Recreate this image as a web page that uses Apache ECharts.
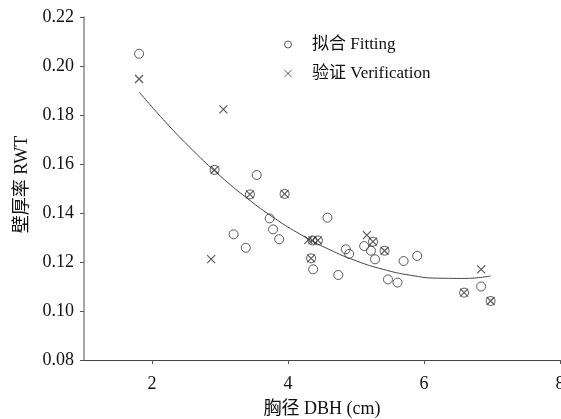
<!DOCTYPE html>
<html><head><meta charset="utf-8">
<script src="https://cdn.jsdelivr.net/npm/echarts@6/dist/echarts.min.js"></script>
<style>html,body{margin:0;padding:0;background:#fff}#c{width:561px;height:419px}</style>
</head><body><div id="c"></div>
<script>
// Fitting (circle) points: [DBH, RWT]
const fittingX = [1.81,2.92,3.54,3.44,3.95,3.73,3.78,3.87,3.20,3.38,4.58,4.36,4.44,4.34,4.37,4.74,4.85,4.90,5.12,5.22,5.25,5.28,5.42,5.70,5.90,5.47,5.61,6.59,6.84,6.98];
const fittingY = [0.205,0.1576,0.1555,0.1476,0.1478,0.1378,0.1333,0.1293,0.1313,0.1258,0.1381,0.1288,0.1288,0.1215,0.1170,0.1147,0.1252,0.1233,0.1265,0.1246,0.1283,0.1211,0.1246,0.1204,0.1225,0.1129,0.1116,0.1075,0.1100,0.1041];
// Verification (x) points
const verifX = [1.81,3.05,2.87,2.92,3.44,3.95,4.30,4.36,4.44,4.34,5.16,5.25,5.42,6.59,6.84,6.98];
const verifY = [0.1947,0.1823,0.1212,0.1576,0.1476,0.1478,0.1290,0.1288,0.1288,0.1215,0.1310,0.1283,0.1246,0.1075,0.1170,0.1041];
// Fitted curve
const curveX = [1.81,2.2,2.6,3.0,3.4,3.8,4.2,4.6,5.0,5.4,5.8,6.2,6.6,6.98];
const curveY = [0.1894,0.1771,0.1656,0.1552,0.1460,0.1379,0.1310,0.1252,0.1205,0.1170,0.1146,0.1134,0.1133,0.1143];
const xTicks = [2,4,6,8];
const yTicks = [0.08,0.10,0.12,0.14,0.16,0.18,0.20,0.22];
const seriesNames = ['拟合 Fitting','验证 Verification'];
const xName = '胸径 DBH (cm)';
const yName = '壁厚率 RWT';

const zip = (a,b) => a.map((v,i)=>[v,b[i]]);
const FONT = '"Liberation Serif","Noto Sans CJK SC",serif';
const crossPath = 'path://M0,0L10,10M10,0L0,10';

const chart = echarts.init(document.getElementById('c'), null, {renderer:'canvas'});
chart.setOption({
  animation:false,
  backgroundColor:'#fff',
  grid:{left:84,right:1,top:17,bottom:59,containLabel:false,outerBoundsMode:'none'},
  legend:{
    data:[{name:seriesNames[0],icon:'circle'},{name:seriesNames[1],icon:crossPath}],
    orient:'vertical', left:279, top:31, itemGap:12, itemWidth:24, itemHeight:7,
    textStyle:{fontFamily:FONT,fontSize:17,color:'#111',padding:[0,0,0,7]},
    itemStyle:{borderWidth:1},
    selectedMode:false
  },
  xAxis:{
    type:'value', min:1, max:8,
    name:xName, nameLocation:'middle', nameGap:40,
    nameTextStyle:{fontFamily:FONT,fontSize:18,color:'#111'},
    axisLine:{onZero:false,lineStyle:{color:'#444',width:1}},
    axisTick:{show:true,length:4,customValues:xTicks,lineStyle:{color:'#555'}},
    axisLabel:{customValues:xTicks,fontFamily:FONT,fontSize:18,color:'#111',margin:15},
    splitLine:{show:false}
  },
  yAxis:{
    type:'value', min:0.08, max:0.22, interval:0.02,
    name:yName, nameLocation:'middle', nameGap:53, nameRotate:90,
    nameTextStyle:{fontFamily:FONT,fontSize:18,color:'#111',padding:[0,0,0,8]},
    axisLine:{show:true,lineStyle:{color:'#888',width:1.5}},
    axisTick:{show:true,length:4,lineStyle:{color:'#555'}},
    axisLabel:{fontFamily:FONT,fontSize:18,color:'#111',margin:10,formatter:v=>v.toFixed(2)},
    splitLine:{show:false}
  },
  series:[
    {name:'curve',type:'line',data:zip(curveX,curveY),smooth:true,symbol:'none',
     lineStyle:{color:'#444',width:1},z:1},
    {name:seriesNames[0],type:'scatter',data:zip(fittingX,fittingY),symbol:'circle',symbolSize:9,
     itemStyle:{color:'transparent',borderColor:'#333',borderWidth:1},z:3},
    {name:seriesNames[1],type:'scatter',data:zip(verifX,verifY),symbol:crossPath,symbolSize:8,
     itemStyle:{color:'transparent',borderColor:'#333',borderWidth:1.2},z:4}
  ]
});
</script></body></html>
